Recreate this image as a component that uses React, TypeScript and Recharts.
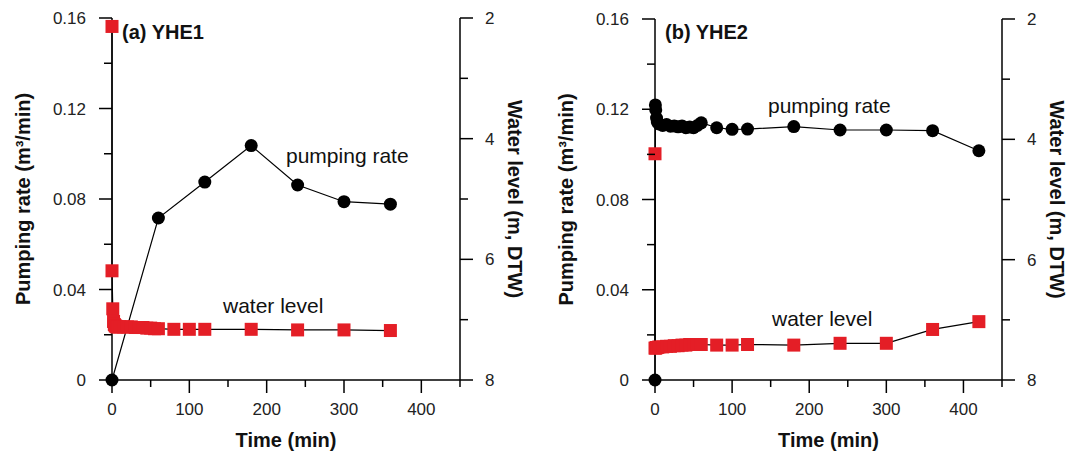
import React from "react";
import { ComposedChart, Scatter, XAxis, YAxis } from "recharts";

// time axis and tick values
const timeTicks = [0, 50, 100, 150, 200, 250, 300, 350, 400, 450];
const rateTicks = [0, 0.02, 0.04, 0.06, 0.08, 0.1, 0.12, 0.14, 0.16];
const levelTicks = [2, 3, 4, 5, 6, 7, 8];

// (a) YHE1
const timeRateA = [0, 60, 120, 180, 240, 300, 360];
const rateA = [0, 0.0716, 0.0875, 0.1036, 0.0862, 0.0788, 0.0777];
const timeLevelA = [0, 0, 1, 2, 3, 4, 5, 6, 8, 10, 15, 20, 25, 30, 35, 40, 45, 50, 55, 60, 80, 100, 120, 180, 240, 300, 360];
const levelA = [2.14, 6.19, 6.82, 7.03, 7.08, 7.1, 7.11, 7.12, 7.12, 7.12, 7.12, 7.12, 7.12, 7.13, 7.13, 7.13, 7.14, 7.14, 7.15, 7.15, 7.16, 7.16, 7.16, 7.16, 7.17, 7.17, 7.18];

// (b) YHE2
const timeRateB = [0, 0.5, 1, 2, 3, 5, 10, 15, 20, 25, 30, 35, 40, 45, 50, 55, 60, 80, 100, 120, 180, 240, 300, 360, 420];
const rateB = [0, 0.1219, 0.1197, 0.1161, 0.1143, 0.1135, 0.1128, 0.1132, 0.1125, 0.1126, 0.1122, 0.1126, 0.1118, 0.1121, 0.1118, 0.1128, 0.114, 0.1118, 0.1111, 0.1112, 0.1123, 0.1108, 0.1108, 0.1105, 0.1016];
const timeLevelB = [0, 0, 1, 2, 3, 5, 10, 15, 20, 25, 30, 35, 40, 45, 50, 55, 60, 80, 100, 120, 180, 240, 300, 360, 420];
const levelB = [4.24, 7.47, 7.47, 7.46, 7.46, 7.45, 7.45, 7.44, 7.44, 7.43, 7.43, 7.42, 7.42, 7.41, 7.41, 7.41, 7.41, 7.42, 7.42, 7.41, 7.42, 7.39, 7.39, 7.16, 7.03];

const FONT = '"Liberation Sans", Arial, sans-serif';
const RED = "#e41e26";

const toPoints = (ts: number[], vs: number[]) => ts.map((t, i) => ({ t, v: vs[i] }));

const RateTick = ({ x, y, payload }: any) => {
  const major = Math.round(payload.value * 100) % 4 === 0;
  return (
    <g>
      <line x1={x} x2={x - (major ? 13 : 8)} y1={y} y2={y} stroke="#000" strokeWidth={1.5} />
      {major && (
        <text x={x - 26} y={y} dy="0.36em" textAnchor="end" fontSize={17} fontFamily={FONT} fill="#222">
          {String(Number(payload.value.toFixed(2)))}
        </text>
      )}
    </g>
  );
};

const LevelTick = ({ x, y, payload }: any) => {
  const major = payload.value % 2 === 0;
  return (
    <g>
      <line x1={x} x2={x + (major ? 13 : 8)} y1={y} y2={y} stroke="#000" strokeWidth={1.5} />
      {major && (
        <text x={x + 25} y={y} dy="0.36em" textAnchor="start" fontSize={17} fontFamily={FONT} fill="#222">
          {payload.value}
        </text>
      )}
    </g>
  );
};

const TimeTick = ({ x, y, payload }: any) => {
  const major = payload.value % 100 === 0 && payload.value < 450;
  return (
    <g>
      <line x1={x} x2={x} y1={y} y2={y + (major ? 13 : 7)} stroke="#000" strokeWidth={1.5} />
      {major && (
        <text x={x} y={y + 35} textAnchor="middle" fontSize={17} fontFamily={FONT} fill="#222">
          {payload.value}
        </text>
      )}
    </g>
  );
};

// rotated axis title; "rot" instead of "angle" so Label's own default doesn't override it
const VTitle = ({ viewBox, text, dx, rot }: any) => {
  const cx = viewBox.x + dx;
  const cy = viewBox.y + viewBox.height / 2;
  return (
    <g transform={`rotate(${rot} ${cx} ${cy})`}>
      <text x={cx} y={cy} textAnchor="middle" dominantBaseline="central"
        fontSize={20} fontWeight="bold" fontFamily={FONT} fill="#111">
        {text}
      </text>
    </g>
  );
};

const HTitle = ({ viewBox, text }: any) => (
  <text x={viewBox.x + viewBox.width / 2} y={viewBox.y + 67} textAnchor="middle"
    fontSize={20} fontWeight="bold" fontFamily={FONT} fill="#111">
    {text}
  </text>
);

const Dot = (p: any) => <circle cx={p.cx} cy={p.cy} r={6.5} fill="#000" />;
const Sq = (p: any) => <rect x={p.cx - 6.5} y={p.cy - 6.5} width={13} height={13} fill={RED} />;

function Panel({ width, top, leftW, rightW, titleDx, rightDx, rate, level }: any) {
  return (
    <ComposedChart width={width} height={468} margin={{ top, right: 0, bottom: 0, left: 0 }}>
      <XAxis dataKey="t" type="number" domain={[0, 450]} ticks={timeTicks} interval={0} height={88}
        tickSize={0} tickMargin={0} tickLine={false} tick={<TimeTick />}
        axisLine={{ stroke: "#000", strokeWidth: 1.5 }} label={<HTitle text="Time (min)" />} />
      <YAxis yAxisId="rate" dataKey="v" type="number" domain={[0, 0.16]} ticks={rateTicks} interval={0} width={leftW}
        tickSize={0} tickMargin={0} tickLine={false} tick={<RateTick />}
        axisLine={{ stroke: "#000", strokeWidth: 1.5 }}
        label={<VTitle text="Pumping rate (m³/min)" dx={titleDx} rot={-90} />} />
      <YAxis yAxisId="level" orientation="right" dataKey="v" type="number" domain={[2, 8]} reversed ticks={levelTicks}
        interval={0} width={rightW} tickSize={0} tickMargin={0} tickLine={false} tick={<LevelTick />}
        axisLine={{ stroke: "#000", strokeWidth: 1.5 }}
        label={<VTitle text="Water level (m, DTW)" dx={rightDx} rot={90} />} />
      <Scatter yAxisId="rate" data={rate} shape={Dot} line={{ stroke: "#000", strokeWidth: 1.2 }}
        isAnimationActive={false} />
      <Scatter yAxisId="level" data={level} shape={Sq} line={{ stroke: "#000", strokeWidth: 1.2 }}
        isAnimationActive={false} />
    </ComposedChart>
  );
}

const note = (text: string, left: number, top: number, size: number, bold = false) => (
  <div style={{ position: "absolute", left, top, fontSize: size, lineHeight: 1, fontFamily: FONT,
    fontWeight: bold ? "bold" : "normal", color: "#111", whiteSpace: "nowrap" }}>
    {text}
  </div>
);

export default function App() {
  return (
    <div style={{ position: "absolute", left: 0, top: 0, width: 1073, height: 468, background: "#fff" }}>
      <div style={{ position: "absolute", left: 0, top: 0 }}>
        <Panel width={540} top={18} leftW={112} rightW={80} titleDx={23} rightDx={55}
          rate={toPoints(timeRateA, rateA)} level={toPoints(timeLevelA, levelA)} />
      </div>
      <div style={{ position: "absolute", left: 540, top: 0 }}>
        <Panel width={533} top={19} leftW={115} rightW={71} titleDx={26} rightDx={55}
          rate={toPoints(timeRateB, rateB)} level={toPoints(timeLevelB, levelB)} />
      </div>
      {note("(a) YHE1", 122, 22, 20, true)}
      {note("(b) YHE2", 665, 22, 20, true)}
      {note("pumping rate", 286, 145, 21)}
      {note("water level", 223, 295, 21)}
      {note("pumping rate", 768, 95, 21)}
      {note("water level", 772, 308, 21)}
    </div>
  );
}
